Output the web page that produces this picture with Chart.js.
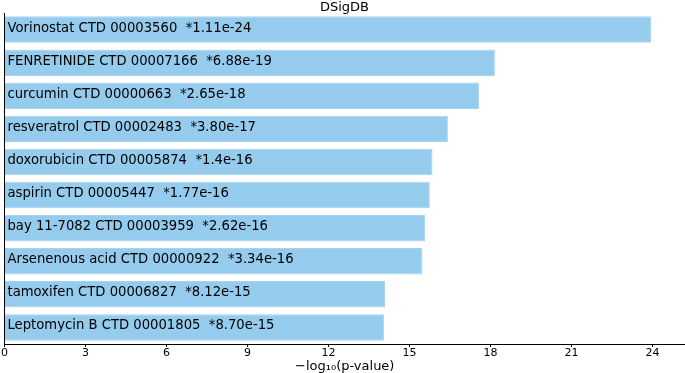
<!DOCTYPE html>
<html>
<head>
<meta charset="utf-8">
<script src="https://cdn.jsdelivr.net/npm/chart.js@4/dist/chart.umd.min.js"></script>
<style>
  html, body { margin: 0; padding: 0; background: #fff; }
</style>
</head>
<body>
<canvas id="dsigChart" width="685" height="373"></canvas>
<script>
// terms, p-values shown in the labels, and bar lengths (-log10 p)
const terms = [
  'Vorinostat CTD 00003560',
  'FENRETINIDE CTD 00007166',
  'curcumin CTD 00000663',
  'resveratrol CTD 00002483',
  'doxorubicin CTD 00005874',
  'aspirin CTD 00005447',
  'bay 11-7082 CTD 00003959',
  'Arsenenous acid CTD 00000922',
  'tamoxifen CTD 00006827',
  'Leptomycin B CTD 00001805'
];
const pvalLabels = ['1.11e-24', '6.88e-19', '2.65e-18', '3.80e-17', '1.4e-16',
  '1.77e-16', '2.62e-16', '3.34e-16', '8.12e-15', '8.70e-15'];
const scores = [23.95, 18.16, 17.58, 16.42, 15.85, 15.75, 15.58, 15.48, 14.09, 14.06];
const xTicks = [0, 3, 6, 9, 12, 15, 18, 21, 24];

const FONT = "'DejaVu Sans', sans-serif";

// write the term name inside each bar
const barText = {
  id: 'barText',
  afterDatasetsDraw(chart) {
    const ctx = chart.ctx;
    const meta = chart.getDatasetMeta(0);
    ctx.save();
    ctx.font = '13.2px ' + FONT;
    ctx.fillStyle = '#000';
    ctx.textBaseline = 'middle';
    ctx.textAlign = 'left';
    meta.data.forEach((bar, i) => {
      ctx.fillText(terms[i] + '  *' + pvalLabels[i], chart.scales.x.getPixelForValue(0) + 3, bar.y - 1.5);
    });
    ctx.restore();
  }
};

const ctx = document.getElementById('dsigChart').getContext('2d');
const dsigChart = new Chart(ctx, {
  type: 'bar',
  data: {
    labels: terms,
    datasets: [{
      data: scores,
      backgroundColor: '#95cbed',
      borderColor: '#a6d3ef',
      borderWidth: 1,
      barPercentage: 0.8,
      categoryPercentage: 1
    }]
  },
  plugins: [barText],
  options: {
    indexAxis: 'y',
    responsive: false,
    animation: false,
    layout: { padding: { left: 4, right: 0, top: 0, bottom: 0 } },
    plugins: {
      legend: { display: false },
      tooltip: { enabled: false },
      title: {
        display: true,
        text: 'DSigDB',
        color: '#000',
        font: { family: FONT, size: 13, weight: 'normal', lineHeight: 0.85 },
        padding: { top: 2, bottom: 0 }
      }
    },
    scales: {
      x: {
        min: 0,
        max: 25.2,
        afterBuildTicks(axis) {
          axis.ticks = xTicks.map(v => ({ value: v }));
        },
        grid: { drawOnChartArea: false, drawTicks: true, tickLength: 3, color: '#000' },
        border: { display: true, color: '#000', width: 1 },
        ticks: { color: '#000', font: { family: FONT, size: 11, lineHeight: 1 }, padding: 1, maxRotation: 0 },
        title: {
          display: true,
          text: '\u2212log\u2081\u2080(p-value)',
          color: '#000',
          font: { family: FONT, size: 13, lineHeight: 1 },
          padding: { top: 0, bottom: 0 }
        }
      },
      y: {
        grid: { display: false, drawTicks: false },
        border: { display: true, color: '#000', width: 1 },
        ticks: { display: false }
      }
    }
  }
});
</script>
</body>
</html>
